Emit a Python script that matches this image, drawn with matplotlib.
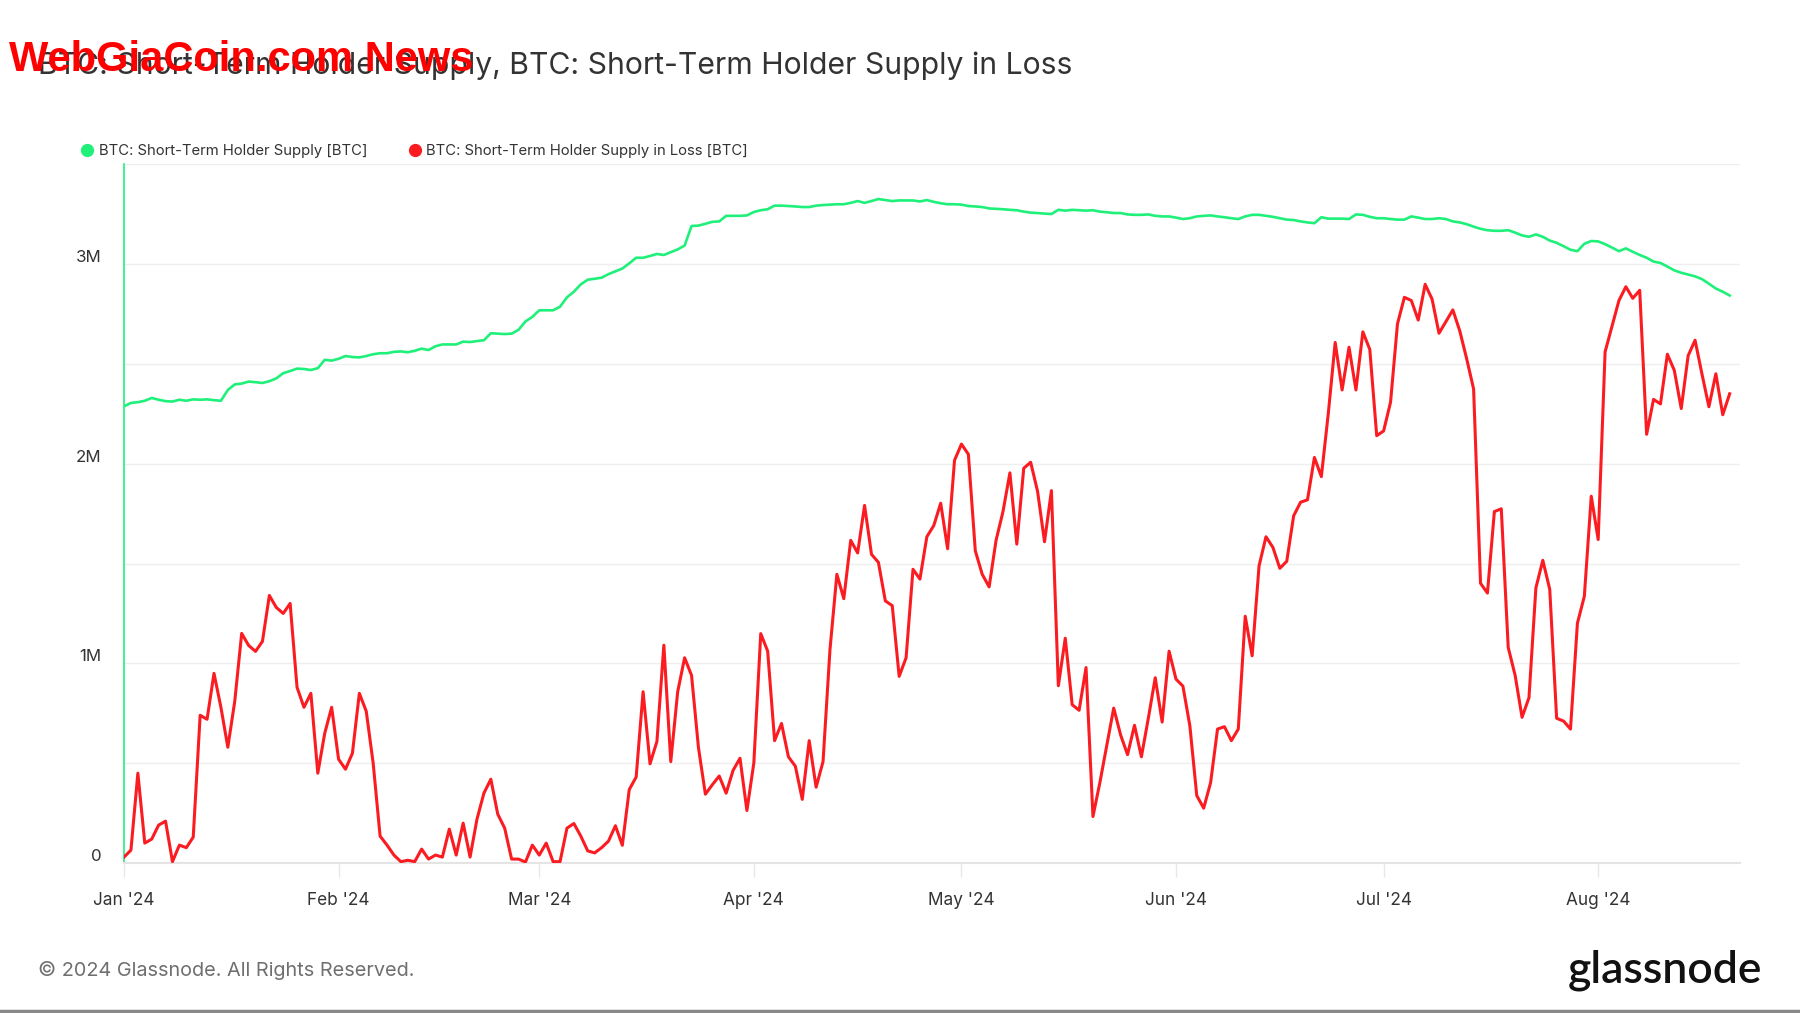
import numpy as np
import pandas as pd
import matplotlib
matplotlib.use("Agg")
import matplotlib.pyplot as plt
import matplotlib.dates as mdates
from matplotlib.lines import Line2D
from matplotlib.transforms import ScaledTranslation

plt.rcParams['font.family'] = ['Inter', 'DejaVu Sans']

# daily values, 2024-01-01 .. 2024-08-20, in millions of BTC
start_date = "2024-01-01"

sth_supply = [
    2.287, 2.304, 2.308, 2.315, 2.329, 2.32, 2.313, 2.311, 2.32, 2.315,
    2.322, 2.32, 2.322, 2.318, 2.315, 2.369, 2.397, 2.401, 2.411, 2.408,
    2.404, 2.413, 2.427, 2.453, 2.464, 2.476, 2.474, 2.469, 2.478, 2.52,
    2.516, 2.525, 2.539, 2.534, 2.532, 2.539, 2.548, 2.553, 2.553, 2.56,
    2.562, 2.558, 2.565, 2.576, 2.569, 2.588, 2.597, 2.597, 2.597, 2.611,
    2.609, 2.614, 2.618, 2.653, 2.651, 2.649, 2.651, 2.67, 2.712, 2.735,
    2.768, 2.768, 2.768, 2.786, 2.833, 2.861, 2.898, 2.921, 2.926, 2.931,
    2.949, 2.963, 2.977, 3.003, 3.031, 3.031, 3.04, 3.05, 3.045, 3.059,
    3.073, 3.092, 3.19, 3.192, 3.201, 3.211, 3.213, 3.241, 3.241, 3.241,
    3.243, 3.26, 3.269, 3.274, 3.292, 3.292, 3.29, 3.288, 3.285, 3.285,
    3.292, 3.295, 3.297, 3.299, 3.299, 3.306, 3.315, 3.306, 3.315, 3.325,
    3.32, 3.315, 3.318, 3.318, 3.318, 3.313, 3.32, 3.311, 3.304, 3.299,
    3.299, 3.297, 3.29, 3.288, 3.285, 3.278, 3.276, 3.274, 3.271, 3.269,
    3.262, 3.257, 3.255, 3.252, 3.25, 3.271, 3.267, 3.271, 3.269, 3.267,
    3.269, 3.262, 3.259, 3.255, 3.255, 3.248, 3.246, 3.246, 3.248, 3.241,
    3.238, 3.238, 3.232, 3.225, 3.229, 3.238, 3.241, 3.243, 3.238, 3.234,
    3.229, 3.225, 3.238, 3.246, 3.246, 3.241, 3.236, 3.229, 3.222, 3.22,
    3.213, 3.208, 3.204, 3.234, 3.227, 3.227, 3.227, 3.225, 3.248, 3.246,
    3.236, 3.229, 3.229, 3.225, 3.222, 3.222, 3.238, 3.232, 3.225, 3.225,
    3.229, 3.225, 3.213, 3.208, 3.199, 3.187, 3.176, 3.169, 3.166, 3.166,
    3.169, 3.157, 3.143, 3.136, 3.148, 3.136, 3.117, 3.106, 3.089, 3.071,
    3.064, 3.101, 3.115, 3.113, 3.099, 3.082, 3.064, 3.078, 3.061, 3.045,
    3.031, 3.012, 3.005, 2.987, 2.968, 2.956, 2.947, 2.938, 2.924, 2.901,
    2.877, 2.861, 2.842,
]

sth_in_loss = [
    0.03, 0.065, 0.45, 0.10, 0.12, 0.19, 0.21, 0.007, 0.09, 0.077,
    0.13, 0.74, 0.72, 0.95, 0.78, 0.58, 0.81, 1.15, 1.09, 1.06,
    1.11, 1.34, 1.28, 1.25, 1.30, 0.88, 0.78, 0.85, 0.45, 0.65,
    0.78, 0.52, 0.47, 0.55, 0.85, 0.76, 0.50, 0.135, 0.09, 0.04,
    0.007, 0.014, 0.007, 0.07, 0.02, 0.04, 0.03, 0.17, 0.04, 0.20,
    0.03, 0.22, 0.35, 0.42, 0.245, 0.175, 0.02, 0.02, 0.005, 0.09,
    0.04, 0.10, 0.007, 0.007, 0.175, 0.198, 0.135, 0.061, 0.051, 0.077,
    0.11, 0.187, 0.089, 0.368, 0.431, 0.858, 0.497, 0.609, 1.091, 0.508,
    0.858, 1.028, 0.94, 0.578, 0.345, 0.392, 0.436, 0.35, 0.464, 0.525,
    0.263, 0.501, 1.149, 1.061, 0.613, 0.699, 0.532, 0.485, 0.319, 0.613,
    0.38, 0.508, 1.068, 1.446, 1.324, 1.616, 1.553, 1.791, 1.546, 1.506,
    1.313, 1.289, 0.935, 1.028, 1.471, 1.422, 1.634, 1.69, 1.802, 1.574,
    2.017, 2.098, 2.047, 1.564, 1.446, 1.383, 1.616, 1.76, 1.954, 1.597,
    1.977, 2.007, 1.861, 1.609, 1.865, 0.888, 1.126, 0.793, 0.765, 0.979,
    0.233, 0.403, 0.59, 0.776, 0.641, 0.543, 0.69, 0.532, 0.725, 0.928,
    0.706, 1.061, 0.921, 0.886, 0.688, 0.338, 0.275, 0.403, 0.671, 0.683,
    0.613, 0.671, 1.236, 1.038, 1.488, 1.634, 1.581, 1.476, 1.511, 1.739,
    1.807, 1.819, 2.031, 1.935, 2.25, 2.607, 2.369, 2.583, 2.369, 2.66,
    2.572, 2.14, 2.164, 2.308, 2.7, 2.833, 2.817, 2.719, 2.898, 2.824,
    2.653, 2.712, 2.77, 2.665, 2.525, 2.374, 1.401, 1.352, 1.76, 1.774,
    1.08, 0.94, 0.73, 0.828, 1.378, 1.516, 1.371, 0.725, 0.711, 0.671,
    1.201, 1.336, 1.837, 1.62, 2.56, 2.688, 2.817, 2.886, 2.828, 2.868,
    2.147, 2.322, 2.299, 2.548, 2.467, 2.276, 2.541, 2.618, 2.448, 2.285,
    2.45, 2.245, 2.35,
]

series_names = ["BTC: Short-Term Holder Supply [BTC]",
                "BTC: Short-Term Holder Supply in Loss [BTC]"]
y_ticks = [0, 0.5, 1, 1.5, 2, 2.5, 3, 3.5]
y_labels = ["0", "", "1M", "", "2M", "", "3M", ""]

GREEN = "#1ff079"
RED = "#fb1c22"

dates = pd.date_range(start_date, periods=len(sth_supply), freq="D")
supply = np.array(sth_supply) * 1e6
loss = np.array(sth_in_loss) * 1e6

fig = plt.figure(figsize=(18, 10.13), dpi=100)
ax = fig.add_axes([0.0689, 0.148, 0.8978, 0.690])

ax.plot(dates, supply, color=GREEN, lw=1.9, solid_joinstyle="round", zorder=3)
ax.plot(dates, loss, color=RED, lw=2.2, solid_joinstyle="round", zorder=3)

ax.set_ylim(0, 3.5e6)
ax.set_xlim(dates[0], dates[0] + pd.Timedelta(days=233.5))

ax.set_yticks([v * 1e6 for v in y_ticks])
ax.set_yticklabels(y_labels)
ax.yaxis.grid(True, color="#efefef", lw=1)
ax.set_axisbelow(True)
ax.tick_params(axis="y", length=0, pad=16, labelsize=12.2, labelcolor="#333333")
for lbl in ax.get_yticklabels():
    lbl.set_transform(lbl.get_transform() + ScaledTranslation(0, 8 / 100, fig.dpi_scale_trans))

ax.xaxis.set_major_locator(mdates.MonthLocator())
ax.xaxis.set_major_formatter(mdates.DateFormatter("%b '%y"))
ax.tick_params(axis="x", length=10, width=1, color="#e8e8e8", pad=11,
               labelsize=12.4, labelcolor="#333333")

for side in ["top", "right"]:
    ax.spines[side].set_visible(False)
ax.spines["left"].set_color(GREEN)
ax.spines["left"].set_linewidth(1.2)
ax.spines["bottom"].set_color("#e4e4e4")
ax.spines["bottom"].set_linewidth(1.5)

# legend
handles = [Line2D([], [], ls="none", marker="o", ms=8.5, color=GREEN),
           Line2D([], [], ls="none", marker="o", ms=8.5, color=RED)]
fig.legend(handles, series_names, loc="center left", bbox_to_anchor=(0.0385, 1 - 151 / 1013),
           ncol=2, frameon=False, fontsize=10.7, labelcolor="#333333",
           handlelength=0.6, handletextpad=0.47, columnspacing=2.9)

# title + watermark
fig.text(38 / 1800, 1 - 66 / 1013, "BTC: Short-Term Holder Supply, BTC: Short-Term Holder Supply in Loss",
         fontsize=21.7, color="#333333", va="center", ha="left")
fig.text(9 / 1800, 1 - 60 / 1013, "WebGiaCoin.com News", fontsize=30, color="#ff0000",
         fontweight="bold", family=["Liberation Sans", "DejaVu Sans"],
         va="center", ha="left")

# footer
fig.text(38 / 1800, 1 - 970 / 1013, "© 2024 Glassnode. All Rights Reserved.",
         fontsize=14.3, color="#6f6f6f", va="center", ha="left")
fig.text(1762 / 1800, 1 - 970 / 1013, "glassnode", fontsize=32, color="#111111",
         family=["Lato", "DejaVu Sans"], fontweight="semibold", va="center", ha="right")
fig.add_artist(Line2D([0, 1], [0.002, 0.002], transform=fig.transFigure, color="#888888", lw=2.5))

fig.savefig("out.png", dpi=100, facecolor="white")
